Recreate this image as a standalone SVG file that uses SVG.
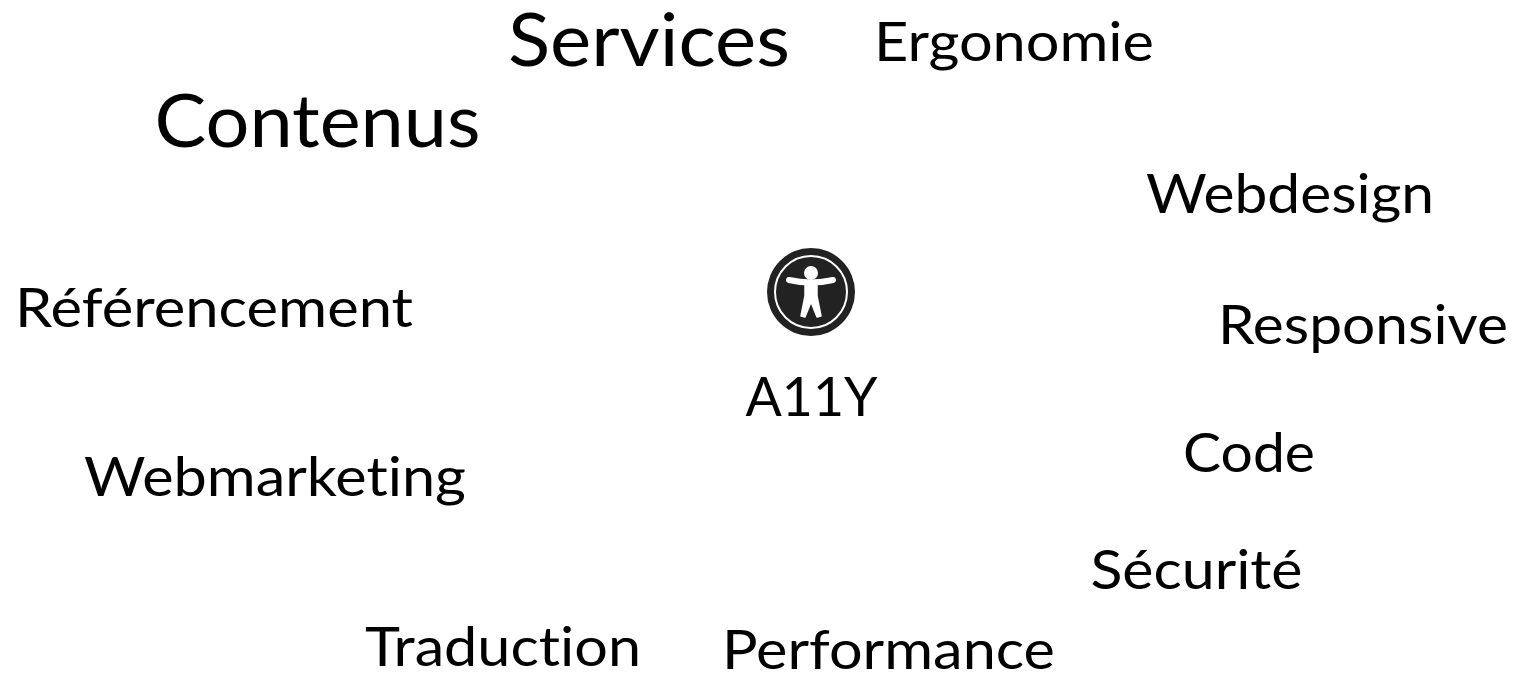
<svg xmlns="http://www.w3.org/2000/svg" width="1514" height="674" viewBox="0 0 1514 674">
<style>text{font-family:"Lato","Open Sans","DejaVu Sans",sans-serif;fill:#000;font-variant-ligatures:none}.a{font-size:55px}.b{font-size:74px}</style>
<rect width="1514" height="674" fill="#fff"/>
<g id="services"><text class="b" x="508" y="65.5" textLength="282" lengthAdjust="spacingAndGlyphs">Services</text></g>
<g id="contenus"><text class="b" x="154.5" y="147" textLength="326" lengthAdjust="spacingAndGlyphs">Contenus</text></g>
<g id="ergonomie"><text class="a" x="874" y="60.5" textLength="280" lengthAdjust="spacingAndGlyphs">Ergonomie</text></g>
<g id="webdesign"><text class="a" x="1146" y="213" textLength="288" lengthAdjust="spacingAndGlyphs">Webdesign</text></g>
<g id="referencement"><text class="a" x="15" y="327" textLength="398" lengthAdjust="spacingAndGlyphs">Référencement</text></g>
<g id="responsive"><text class="a" x="1218" y="344" textLength="290" lengthAdjust="spacingAndGlyphs">Responsive</text></g>
<g id="a11y"><circle cx="811" cy="292" r="44" fill="#222"/><circle cx="811" cy="292" r="36" fill="none" stroke="#fff" stroke-width="2"/><circle cx="811" cy="273" r="7" fill="#fff"/><path d="M789 280Q811 285 833 280" fill="none" stroke="#fff" stroke-width="6" stroke-linecap="round"/><path d="M805 282H817V296L821 316 817 317 811 302 805 317 801 316 805 296Z" fill="#fff" stroke="#fff" stroke-width="1.5" stroke-linejoin="round"/><text class="a" x="745.5" y="415.5" textLength="132" lengthAdjust="spacingAndGlyphs">A11Y</text></g>
<g id="code"><text class="a" x="1183" y="471.5" textLength="132" lengthAdjust="spacingAndGlyphs">Code</text></g>
<g id="webmarketing"><text class="a" x="84" y="495.5" textLength="382" lengthAdjust="spacingAndGlyphs">Webmarketing</text></g>
<g id="securite"><text class="a" x="1090.5" y="589" textLength="212" lengthAdjust="spacingAndGlyphs">Sécurité</text></g>
<g id="traduction"><text class="a" x="365" y="665.5" textLength="276" lengthAdjust="spacingAndGlyphs">Traduction</text></g>
<g id="performance"><text class="a" x="722" y="669" textLength="333" lengthAdjust="spacingAndGlyphs">Performance</text></g>
<g id="connectors"/>
</svg>
